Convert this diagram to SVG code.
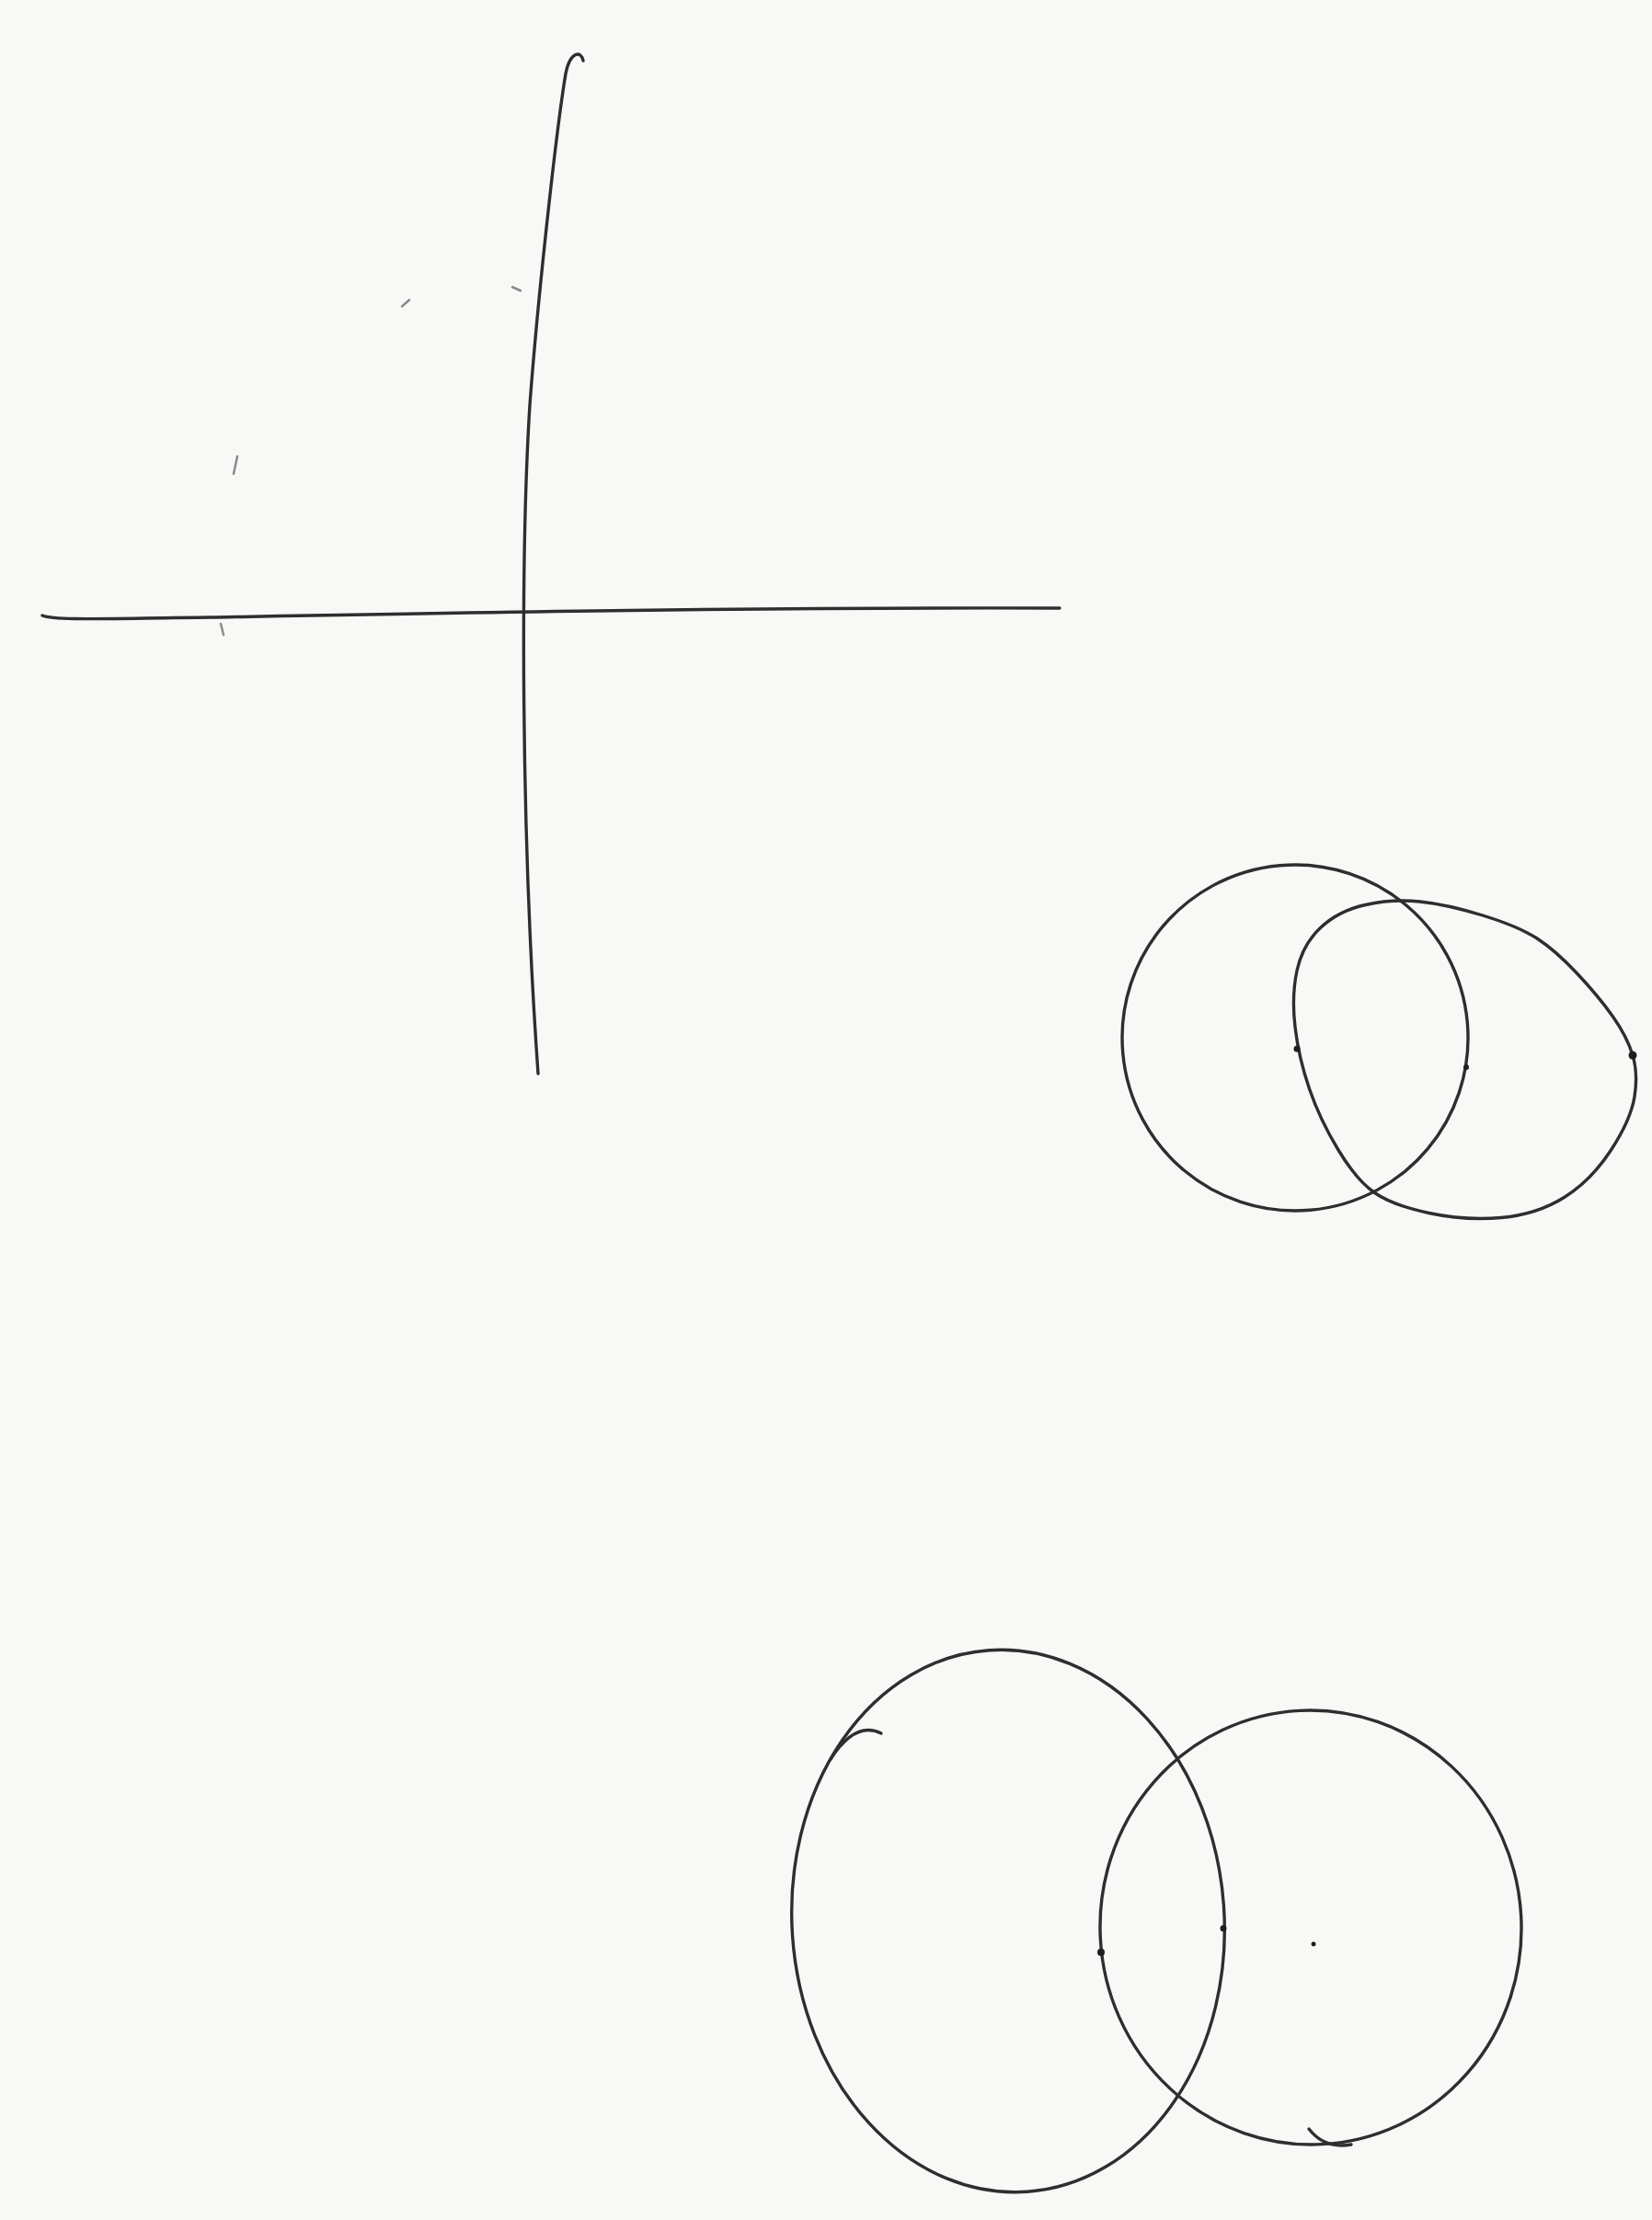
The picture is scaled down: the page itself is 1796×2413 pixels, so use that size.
<svg xmlns="http://www.w3.org/2000/svg" width="1796" height="2413" viewBox="0 0 1796 2413">
<style>
.ink{fill:none;stroke:#2e2e2e;stroke-width:3.4;stroke-linecap:round;stroke-linejoin:round}
.faint{fill:none;stroke:#8a8a8a;stroke-width:2.5;stroke-linecap:round}
.dot{fill:#1e1e1e}
</style>
<rect width="1796" height="2413" fill="#f8f8f6"/>
<g id="axes">
<path class="ink" d="M634,66 C632,55 620,55 615,80 C605,140 585,320 576,440 C566,600 566,900 585,1167"/>
<path class="ink" d="M46,669 C60,675 120,672 230,671 C500,666 800,660 1152,661"/>
<path class="faint" d="M258,496 L254,515"/>
<path class="faint" d="M437,333 L445,326"/>
<path class="faint" d="M557,312 L566,316"/>
<path class="faint" d="M240,678 L243,690"/>
</g>
<g id="pair1-left">
<ellipse class="ink" cx="1408" cy="1128" rx="188" ry="188" transform="rotate(40 1408 1128)"/>
</g>
<g id="pair1-right">
<path class="ink" d="M1543.5,980 Q1573,983 1612,995 Q1651,1007 1671,1020 Q1691,1033 1714.5,1058 Q1738,1083 1753.5,1105 Q1769,1127 1775,1147 Q1781,1167 1777,1192 Q1773,1217 1751.5,1250 Q1730,1283 1700.5,1301.5 Q1671,1320 1632,1323.5 Q1593,1327 1553.5,1318.5 Q1514,1310 1494.5,1296.5 Q1475,1283 1455,1250 Q1435,1217 1423.5,1183.5 Q1412,1150 1408,1116.5 Q1404,1083 1410,1055 Q1416,1027 1435.5,1008.5 Q1455,990 1484.5,983.5 Q1514,977 1543.5,980 Z"/>
<circle class="dot" cx="1410" cy="1140" r="3.5"/>
<circle class="dot" cx="1594" cy="1160" r="3"/>
<circle class="dot" cx="1775" cy="1147" r="4.5"/>
</g>
<g id="pair2-left">
<ellipse class="ink" cx="1096" cy="2088" rx="235" ry="295" transform="rotate(-4 1096 2088)"/>
<path class="ink" d="M903,1912 Q930,1870 958,1884"/>
<circle class="dot" cx="1330" cy="2096" r="3.5"/>
</g>
<g id="pair2-right">
<ellipse class="ink" cx="1425" cy="2095" rx="229" ry="236" transform="rotate(-3 1425 2095)"/>
<path class="ink" d="M1423,2314 Q1440,2336 1469,2331"/>
<circle class="dot" cx="1197" cy="2122" r="4"/>
<circle class="dot" cx="1428" cy="2113" r="2.5"/>
</g>
</svg>
